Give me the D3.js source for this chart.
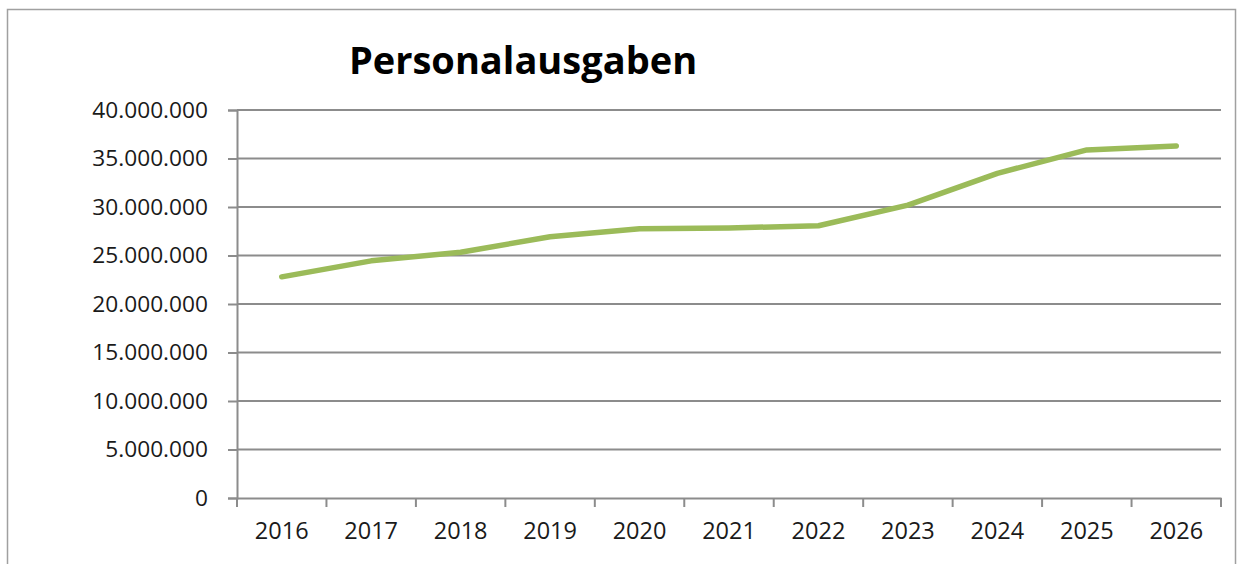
<!DOCTYPE html>
<html><head><meta charset="utf-8">
<script src="https://cdn.jsdelivr.net/npm/d3@7"></script>
<style>body{margin:0;background:#fff;} svg{display:block;}</style>
</head><body>
<svg id="c" width="1237" height="564"></svg>
<script>
const years = ["2016","2017","2018","2019","2020","2021","2022","2023","2024","2025","2026"];
const values = [22800000,24450000,25330000,26940000,27760000,27840000,28070000,30200000,33470000,35880000,36290000];
const yTicks = [0,5000000,10000000,15000000,20000000,25000000,30000000,35000000,40000000];
const title = "Personalausgaben";

const svg = d3.select("#c");
const W = 1237, H = 564;
const m = {left:237, right:1221, top:110, bottom:498};
const font = "'Open Sans', sans-serif";
const grid = "#8c8c8c";

svg.append("rect").attr("x",7.5).attr("y",9.5).attr("width",1228).attr("height",600)
  .attr("fill","#fff").attr("stroke","#a0a0a0").attr("stroke-width",1.5);

const x = d3.scaleBand().domain(years).range([m.left, m.right]);
const y = d3.scaleLinear().domain([0,40000000]).range([m.bottom, m.top]);
const fmt = v => d3.format(",")(v).replace(/,/g,".");

// gridlines
svg.append("g").selectAll("line").data(yTicks.filter(d=>d>0)).join("line")
  .attr("x1",m.left).attr("x2",m.right)
  .attr("y1",d=>y(d)).attr("y2",d=>y(d))
  .attr("stroke",grid).attr("stroke-width",2);

// y axis
const ya = svg.append("g").attr("transform",`translate(${m.left},0)`)
  .call(d3.axisLeft(y).tickValues(yTicks).tickFormat(fmt).tickSize(9).tickPadding(20));
ya.select(".domain").attr("stroke",grid).attr("stroke-width",2);
ya.selectAll(".tick line").attr("stroke",grid).attr("stroke-width",2);
ya.selectAll("text").attr("font-family",font).attr("font-size","22.7px").attr("fill","#1a1a1a");

// x axis
const xa = svg.append("g").attr("transform",`translate(0,${m.bottom})`)
  .call(d3.axisBottom(x).tickSize(0).tickPadding(24));
xa.select(".domain").attr("stroke",grid).attr("stroke-width",2);
xa.selectAll("text").attr("font-family",font).attr("font-size","23.5px").attr("fill","#1a1a1a");
const bounds = years.map(d=>x(d)).concat([m.right]);
svg.append("g").selectAll("line").data(bounds).join("line")
  .attr("x1",d=>d).attr("x2",d=>d).attr("y1",m.bottom).attr("y2",m.bottom+9)
  .attr("stroke",grid).attr("stroke-width",2);

// line
const line = d3.line().x((d,i)=>x(years[i])+x.bandwidth()/2).y(d=>y(d));
svg.append("path").datum(values).attr("d",line)
  .attr("fill","none").attr("stroke","#9bbb59").attr("stroke-width",5.5)
  .attr("stroke-linecap","round").attr("stroke-linejoin","round");

// title
svg.append("text").attr("x",523).attr("y",74).attr("text-anchor","middle")
  .attr("font-family",font).attr("font-weight","bold").attr("font-size","38px")
  .attr("fill","#000").text(title);
</script>
</body></html>
